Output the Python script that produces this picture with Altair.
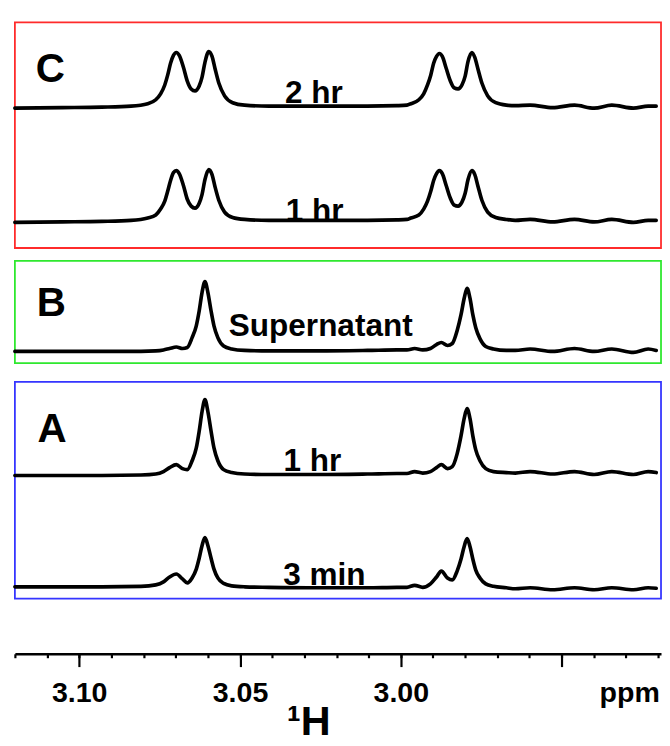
import altair as alt
import pandas as pd

# ---------------- data ----------------
# chemical-shift grid (ppm) used for the panel C spectra
ppm_c = [3.1200, 3.1053, 3.0930, 3.0839, 3.0787, 3.0762, 3.0747, 3.0734, 3.0725, 3.0716,
         3.0707, 3.0698, 3.0689, 3.0676, 3.0664, 3.0652, 3.0640, 3.0627, 3.0618, 3.0609,
         3.0597, 3.0587, 3.0578, 3.0566, 3.0548, 3.0523, 3.0486, 3.0410, 3.0257, 3.0104,
         3.0012, 2.9981, 2.9969, 2.9944, 2.9929, 2.9917, 2.9907, 2.9898, 2.9889, 2.9880,
         2.9871, 2.9859, 2.9846, 2.9834, 2.9822, 2.9810, 2.9800, 2.9791, 2.9779, 2.9770,
         2.9760, 2.9748, 2.9730, 2.9705, 2.9672, 2.9644, 2.9598, 2.9528, 2.9460, 2.9399,
         2.9344, 2.9277, 2.9231, 2.9206]
c_2hr = [-1.5, -1, -0.5, 0.5, 3, 7, 13, 22, 32, 44,
         52, 55, 52, 40, 26, 18, 16, 21, 30, 45,
         56, 51, 39, 24, 11, 4, 1.5, 0.5, 0.5, 0.5,
         1, 1.5, 3, 7, 13, 22, 32, 44, 51, 54,
         51, 39, 26, 19, 18, 22, 31, 46, 55, 50,
         38, 24, 11, 4, 1.5, 1, 1.5, -1, 1.5, -1.5,
         1.5, -1.5, 0.5, 0.5]
c_1hr = [-1.5, -1, -0.5, 0.5, 3, 6, 12, 20, 30, 41,
         49, 51, 48, 36, 22, 15, 13, 18, 27, 42,
         52, 47, 35, 21, 9, 3.5, 1.5, 0.5, 0.5, 0.5,
         1, 1.5, 3, 6, 12, 20, 30, 41, 48, 51,
         48, 36, 23, 16, 15, 19, 28, 42, 51, 47,
         35, 21, 9, 3.5, 1.5, 0.5, 1.5, -1, 1.5, -1,
         1.5, -1.5, 0.5, 0.5]

# chemical-shift grid (ppm) used for the panel A and B spectra
ppm_ab = [3.1200, 3.1053, 3.0930, 3.0808, 3.0762, 3.0738, 3.0719, 3.0698, 3.0679, 3.0664,
          3.0649, 3.0636, 3.0627, 3.0618, 3.0609, 3.0600, 3.0590, 3.0581, 3.0569, 3.0551,
          3.0526, 3.0486, 3.0410, 3.0257, 3.0104, 3.0012, 2.9981, 2.9957, 2.9932, 2.9908,
          2.9889, 2.9874, 2.9855, 2.9840, 2.9825, 2.9813, 2.9803, 2.9794, 2.9785, 2.9776,
          2.9767, 2.9754, 2.9736, 2.9712, 2.9672, 2.9644, 2.9598, 2.9528, 2.9460, 2.9399,
          2.9344, 2.9277, 2.9231, 2.9206]
b_super = [0, 0, 0, 0, 0.5, 1.5, 3, 4.5, 3, 4,
           14, 26, 41, 60, 71, 60, 41, 26, 14, 5.5,
           2.5, 1, 0.5, 0.5, 1, 1.5, 1.5, 3, 1.5, 3,
           7, 9, 6, 8, 21, 37, 54, 64, 54, 37,
           24, 13, 5, 2.5, 1, 1, 2.5, 0, 3, 0,
           2.5, -1, 2.5, 1]
a_1hr = [0, 0, 0, 0.5, 1.5, 4, 8, 11, 7, 6,
         15, 28, 45, 65, 77, 65, 45, 28, 15, 6,
         3, 1.5, 1, 1, 1.5, 2, 2, 4, 2.5, 4,
         8, 11, 7, 9, 22, 40, 58, 68, 58, 40,
         26, 15, 7, 4, 3, 2.5, 4, 1.5, 4, 1,
         4, 1, 4, 3]
a_3min = [1, 1, 1, 1.5, 3, 6, 11, 14, 9, 5,
          10, 19, 30, 43, 51, 43, 30, 19, 10, 4.5,
          2, 1, 0.5, 0, 0, 0.5, 0.5, 2.5, 0.5, 4,
          11, 17, 10, 8, 17, 29, 42, 50, 42, 29,
          18, 10, 4, 1.5, 0, -1, 0, -2, 0, -2,
          0, -2, 0, -0.5]

# vertical stacking offset of each trace inside its panel
offset_c = [143.5, 27.5]
offset_b = [12]
offset_a = [125, 11]

# panel annotations
letters = ["C", "B", "A"]
letter_ppm = [3.109, 3.1087, 3.1084]
letter_y = [169, 48, 159]
labels_c = ["2 hr", "1 hr"]
labels_c_ppm = [3.0270, 3.0268]
labels_c_y = [147, 27]
labels_b = ["Supernatant"]
labels_b_ppm = [3.0249]
labels_b_y = [28]
labels_a = ["1 hr", "3 min"]
labels_a_ppm = [3.0275, 3.0238]
labels_a_y = [130, 14]

major_ticks = [3.10, 3.05, 3.00, 2.95, 2.929]
minor_ticks = [3.12, 3.11, 3.10, 3.09, 3.08, 3.07, 3.06, 3.05, 3.04, 3.03, 3.02,
               3.01, 3.00, 2.99, 2.98, 2.97, 2.96, 2.95, 2.94, 2.93, 2.92]

# ---------------- chart ----------------
FONT = "Liberation Sans"
W = 656
xscale = alt.Scale(domain=[2.9191, 3.12], reverse=True, nice=False, zero=False)


def traces(ppm, series, offsets):
    frames = []
    for i, (vals, off) in enumerate(zip(series, offsets)):
        frames.append(pd.DataFrame({"ppm": ppm, "y": [v + off for v in vals], "trace": i}))
    return pd.concat(frames, ignore_index=True)


def panel(df_lines, letter_idx, lab, lab_ppm, lab_y, height, border,
          major_axis=None, minor_axis=None):
    yenc = alt.Y("y:Q", scale=alt.Scale(domain=[0, height], nice=False, zero=False), axis=None)
    lines = alt.Chart(df_lines).mark_line(
        color="black", strokeWidth=3.7, interpolate="monotone",
        strokeJoin="round", strokeCap="round"
    ).encode(x=alt.X("ppm:Q", scale=xscale, axis=major_axis), y=yenc, detail="trace:N")
    let_df = pd.DataFrame({"ppm": [letter_ppm[letter_idx]], "y": [letter_y[letter_idx]],
                           "t": [letters[letter_idx]]})
    let_layer = alt.Chart(let_df).mark_text(
        font=FONT, fontWeight="bold", fontSize=41, align="center", baseline="alphabetic",
        color="black"
    ).encode(x=alt.X("ppm:Q", scale=xscale, axis=minor_axis), y=yenc, text="t:N")
    lab_df = pd.DataFrame({"ppm": lab_ppm, "y": lab_y, "t": lab})
    lab_layer = alt.Chart(lab_df).mark_text(
        font=FONT, fontWeight="bold", fontSize=32, align="center", baseline="alphabetic",
        color="black"
    ).encode(x=alt.X("ppm:Q", scale=xscale, axis=None), y=yenc, text="t:N")
    ch = alt.layer(lines, let_layer, lab_layer).properties(
        width=W, height=height,
        view=alt.ViewBackground(stroke=border, strokeWidth=1.8, fill="white"))
    if major_axis is not None:
        ch = ch.resolve_axis(x="independent")
    return ch


major = alt.Axis(
    orient="bottom", offset=56, values=major_ticks, grid=False, domain=False,
    tickSize=13, tickWidth=2.2, tickColor="black",
    tickOpacity={"condition": {"test": "datum.value < 2.94", "value": 0}, "value": 1},
    labelExpr="datum.value < 2.94 ? 'ppm' : (datum.value < 2.96 ? '' : format(datum.value, '.2f'))",
    labelFont=FONT, labelFontWeight="bold", labelFontSize=29, labelColor="black",
    labelPadding=12, labelOverlap=False, labelFlush=False,
    title="\u00b9H", titleFont=FONT, titleFontWeight="bold", titleFontSize=42,
    titleColor="black", titleX=298, titleY=82, titleAlign="center",
    titleBaseline="alphabetic", titleAngle=0,
)
minor = alt.Axis(
    orient="bottom", offset=56, values=minor_ticks, grid=False, labels=False,
    domain=True, domainColor="black", domainWidth=2.6,
    tickSize=4, tickWidth=2.2, tickColor="black", title=None,
)

df_c = traces(ppm_c, [c_2hr, c_1hr], offset_c)
df_b = traces(ppm_ab, [b_super], offset_b)
df_a = traces(ppm_ab, [a_1hr, a_3min], offset_a)

panel_c = panel(df_c, 0, labels_c, labels_c_ppm, labels_c_y, 229, "#ff2b2b")
panel_b = panel(df_b, 1, labels_b, labels_b_ppm, labels_b_y, 104, "#2ee82e")
panel_a = panel(df_a, 2, labels_a, labels_a_ppm, labels_a_y, 220, "#3535ff",
                major_axis=major, minor_axis=minor)

chart = alt.vconcat(
    alt.vconcat(panel_c, panel_b, spacing=11),
    panel_a, spacing=17
).properties(
    padding={"left": 4, "top": 8, "right": 0, "bottom": 0}
).configure(background="white")

chart.save("out.html", embed_options={"renderer": "svg", "actions": False})
